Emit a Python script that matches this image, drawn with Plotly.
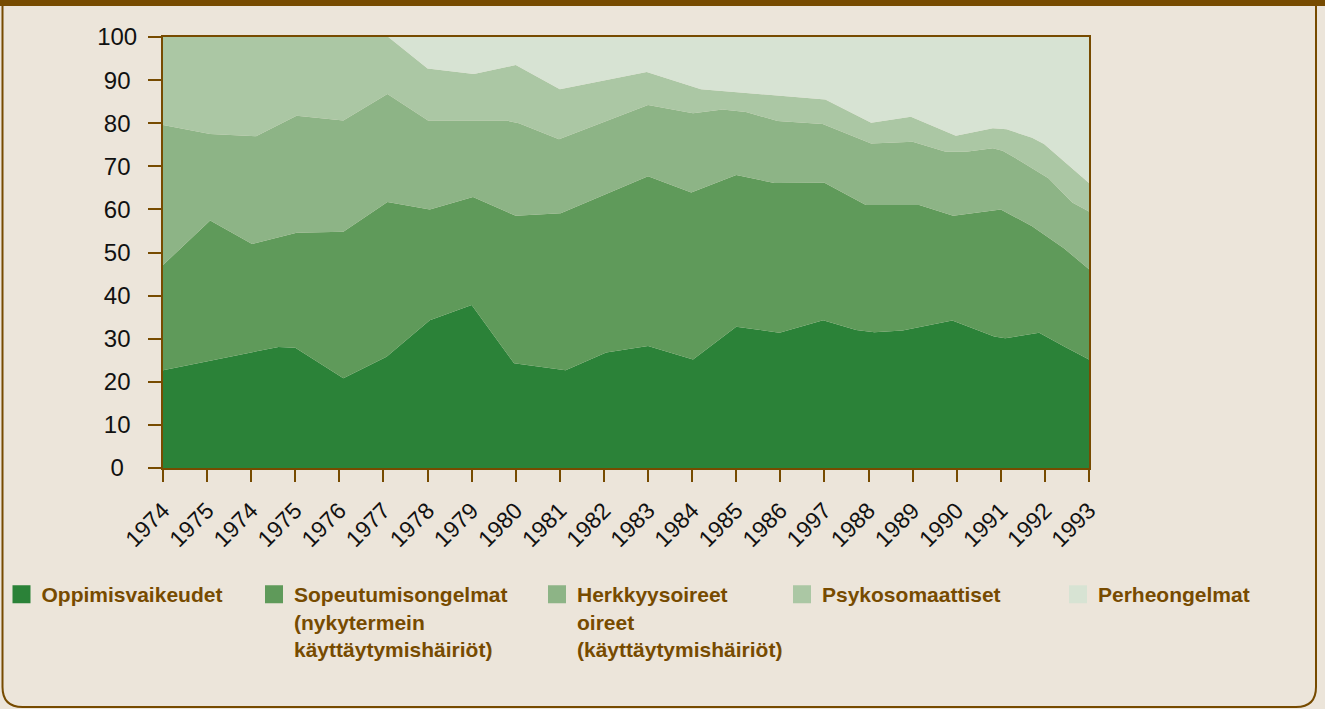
import plotly.graph_objects as go

# ---------------- data ----------------
x_labels = ['1974', '1975', '1974', '1975', '1976', '1977', '1978', '1979', '1980', '1981',
            '1982', '1983', '1984', '1985', '1986', '1997', '1988', '1989', '1990', '1991',
            '1992', '1993']

series_names = [
    'Oppimisvaikeudet',
    'Sopeutumisongelmat<br>(nykytermein<br>käyttäytymishäiriöt)',
    'Herkkyysoireet<br>oireet<br>(käyttäytymishäiriöt)',
    'Psykosomaattiset',
    'Perheongelmat',
]

# cumulative top edge of each band (percent); x = position on the category axis
oppimis_x = [0, 2.62, 3, 4.09, 5.07, 6.05, 7.0, 7.96, 9.13, 10.05, 11.0, 12.02, 13.0, 13.98,
             14.97, 15.72, 16.13, 16.77, 17.9, 18.85, 19.1, 19.87, 20.47, 21]
oppimis_top = [22.7, 28.1, 27.9, 20.8, 25.8, 34.3, 37.8, 24.3, 22.7, 26.8, 28.3, 25.2, 32.8, 31.4,
               34.3, 32.0, 31.5, 31.9, 34.2, 30.5, 30.1, 31.4, 28.0, 25.2]

sopeutumis_x = [0, 1.07, 2.02, 3.03, 4.09, 5.09, 6.05, 7.03, 8.0, 9.02, 11.0, 11.98, 13.0, 13.87,
                15.0, 15.94, 17.15, 17.92, 19.0, 19.71, 20.43, 21]
sopeutumis_top = [47.1, 57.4, 52.0, 54.6, 54.8, 61.7, 60.0, 62.9, 58.5, 59.1, 67.7, 63.9, 68.0, 66.1,
                  66.2, 61.0, 61.0, 58.5, 60.0, 56.1, 51.0, 46.1]

herkkyys_x = [0, 1.07, 2.11, 3.03, 4.09, 5.09, 6.01, 7.79, 8.07, 8.98, 11.0, 12.02, 12.69, 13.22,
              13.94, 14.96, 16.06, 17.0, 17.75, 18.21, 18.82, 19.04, 19.45, 20.08, 20.62, 21]
herkkyys_top = [79.6, 77.5, 77.0, 81.7, 80.6, 86.8, 80.6, 80.6, 80.0, 76.3, 84.2, 82.3, 83.2, 82.6,
                80.5, 79.8, 75.3, 75.7, 73.4, 73.4, 74.2, 73.6, 71.2, 67.2, 61.6, 59.5]

psyko_x = [0, 5.11, 6.0, 7.05, 8.0, 9.0, 10.97, 12.2, 15.02, 16.06, 16.96, 17.98, 18.82, 19.13,
           19.71, 19.98, 21]
psyko_top = [100, 100, 92.7, 91.4, 93.5, 87.9, 91.9, 87.9, 85.5, 80.1, 81.5, 77.1, 78.8, 78.6,
             76.6, 75.2, 66.1]

perhe_x = [0, 21]
perhe_top = [100, 100]

y_ticks = [0, 10, 20, 30, 40, 50, 60, 70, 80, 90, 100]

# ---------------- style ----------------
W, H = 1325, 709
ML, MR, MT, MB = 163, 236, 37, 241
PW, PH = W - ML - MR, H - MT - MB

colors = ['#2b8238', '#5f9a5a', '#8db486', '#abc7a4', '#d7e3d3']
brown = '#774b00'
bg = '#ece5da'
FONT = 'Liberation Sans, Arial, Helvetica, sans-serif'


def px2x(px):
    return (px - ML) / PW


def py2y(py):
    return (H - MB - py) / PH


fig = go.Figure()

bands = [(oppimis_x, oppimis_top), (sopeutumis_x, sopeutumis_top), (herkkyys_x, herkkyys_top),
         (psyko_x, psyko_top), (perhe_x, perhe_top)]
for i, (xs, ys) in enumerate(bands):
    fig.add_trace(go.Scatter(
        x=xs, y=ys, mode='lines', line=dict(width=0, color=colors[i]),
        fill='tozeroy' if i == 0 else 'tonexty', fillcolor=colors[i],
        showlegend=False, hoverinfo='skip'))

# legend entries (one legend each, to place them like the original)
legend_left = [1.5, 254, 537, 782, 1058]
for i, name in enumerate(series_names):
    key = 'legend' if i == 0 else f'legend{i + 1}'
    fig.add_trace(go.Scatter(
        x=[None], y=[None], mode='markers', name=name,
        marker=dict(symbol='square', size=16, color=colors[i], line=dict(width=2, color=colors[i])),
        legend=key, showlegend=True))

legend_layouts = {}
for i in range(5):
    key = 'legend' if i == 0 else f'legend{i + 1}'
    legend_layouts[key] = dict(
        x=px2x(legend_left[i]), y=py2y(574), xanchor='left', yanchor='top',
        bgcolor='rgba(0,0,0,0)', borderwidth=0, valign='top',
        font=dict(family=FONT, size=21, color=brown, weight='bold'))


def center_pad(v):
    s = str(v)
    pad = {1: '\u2007', 2: '\u2008', 3: ''}[len(s)]
    return s + pad


shapes = [
    dict(type='rect', xref='paper', yref='paper', x0=px2x(0), x1=px2x(W), y0=py2y(0), y1=py2y(6),
         fillcolor=brown, line=dict(width=0)),
    dict(type='path', xref='paper', yref='paper', line=dict(color=brown, width=2),
         path=(f'M{px2x(2.5)},{py2y(6)} L{px2x(2.5)},{py2y(687)} '
               f'Q{px2x(2.5)},{py2y(707)} {px2x(22.5)},{py2y(707)} '
               f'L{px2x(1296)},{py2y(707)} '
               f'Q{px2x(1316)},{py2y(707)} {px2x(1316)},{py2y(687)} '
               f'L{px2x(1316)},{py2y(6)}')),
]

fig.update_layout(
    width=W, height=H,
    margin=dict(l=ML, r=MR, t=MT, b=MB, autoexpand=False),
    paper_bgcolor=bg, plot_bgcolor=bg,
    font=dict(family=FONT, size=22, color='#111111'),
    shapes=shapes,
    **legend_layouts,
    xaxis=dict(range=[0, 21], tickmode='array', tickvals=list(range(len(x_labels))),
               ticktext=x_labels, tickangle=-45, ticks='outside', ticklen=12, tickwidth=2,
               tickcolor=brown, showline=True, linecolor=brown, linewidth=2, mirror=True,
               showgrid=False, zeroline=False, fixedrange=True, ticklabelstandoff=6,
               tickfont=dict(family=FONT, size=23, color='#111111')),
    yaxis=dict(range=[0, 100], tickmode='array', tickvals=y_ticks,
               ticktext=[center_pad(v) for v in y_ticks], ticks='outside', ticklen=13,
               tickwidth=2, tickcolor=brown, showline=True, linecolor=brown, linewidth=2,
               mirror=True, showgrid=False, zeroline=False, fixedrange=True,
               ticklabelstandoff=6,
               tickfont=dict(family=FONT, size=24, color='#111111')),
)

fig.write_html('out.html', config={'displayModeBar': False},
               post_script="document.body.style.margin='0';document.body.style.padding='0';")
